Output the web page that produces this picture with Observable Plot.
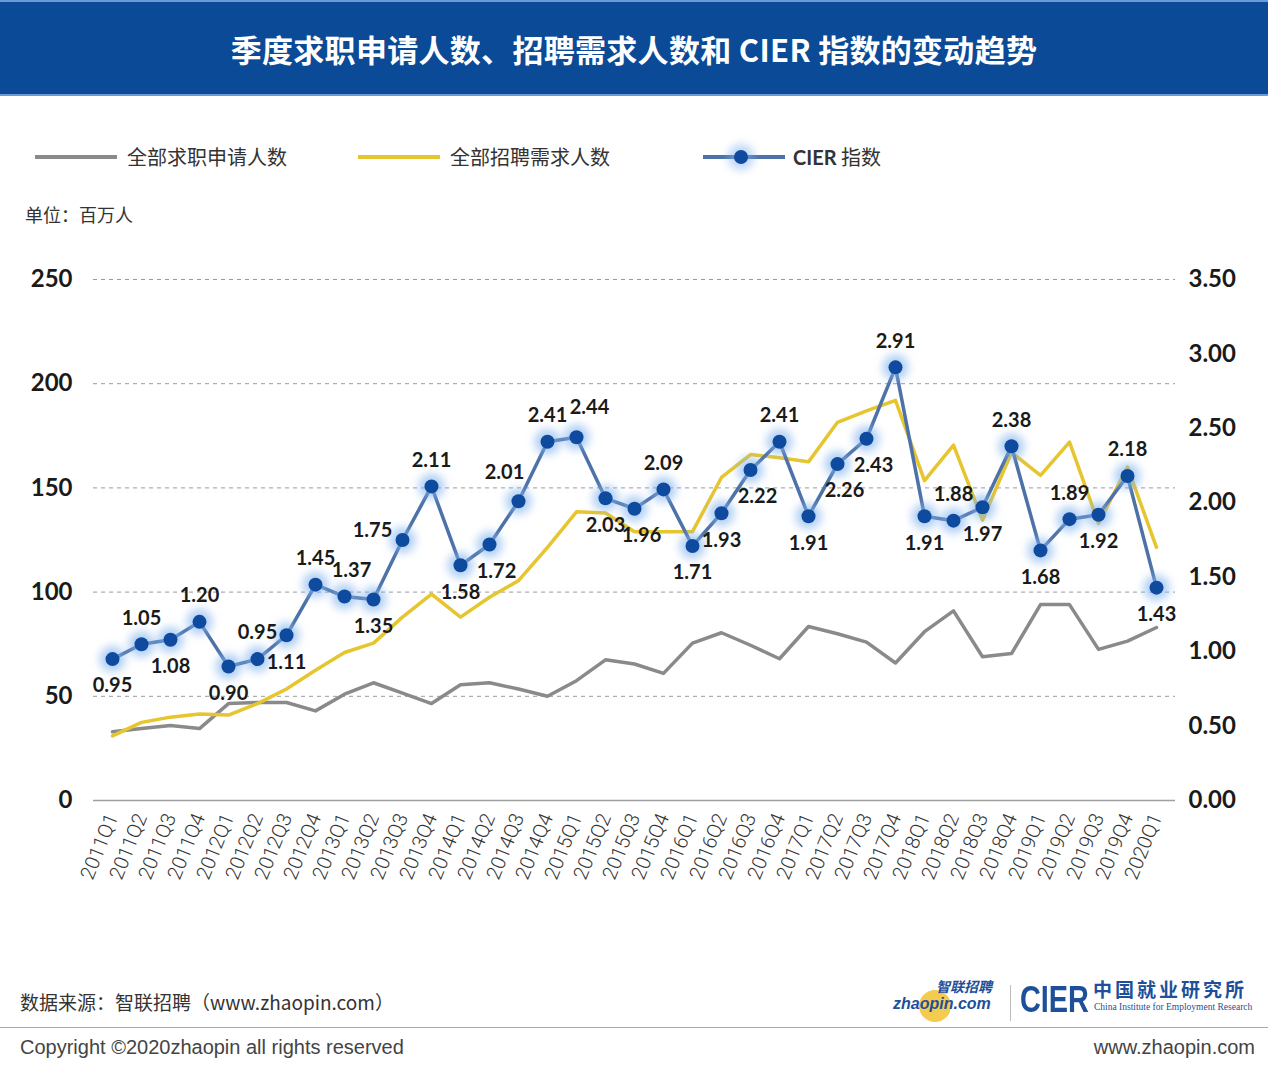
<!DOCTYPE html>
<html><head><meta charset="utf-8">
<script src="https://cdn.jsdelivr.net/npm/d3@7"></script>
<script src="https://cdn.jsdelivr.net/npm/@observablehq/plot@0.6"></script>
<style>
body{margin:0;width:1268px;height:1065px;position:relative;background:#fff;font-family:"Noto Sans CJK SC","Noto Sans",sans-serif;overflow:hidden}
#header{position:absolute;left:0;top:0;width:1268px;height:96px;background:#0b4a97;border-top:2px solid #6a9bd8;border-bottom:2px solid #6a9bd8;box-sizing:border-box;color:#fff;font-weight:bold;font-size:31px;display:flex;align-items:center;justify-content:center;letter-spacing:0.3px}
.leg{position:absolute;top:140px;font-size:20px;color:#333;line-height:34px;height:34px}
.leg svg{position:absolute;top:0}
.leg span{position:absolute;white-space:nowrap}
#unit{position:absolute;left:25px;top:201px;font-size:18px;color:#333}
#chart{position:absolute;left:0;top:240px}
.foot{position:absolute;font-size:19px;color:#333;white-space:nowrap}
#sep{position:absolute;left:0;top:1027px;width:1268px;height:1px;background:#aaa}
</style></head>
<body>
<div id="header">季度求职申请人数、招聘需求人数和 CIER 指数的变动趋势</div>
<div id="legend"></div>
<div id="unit">单位：百万人</div>
<div id="chart"></div>
<div class="foot" style="left:20px;top:988px">数据来源：智联招聘（www.zhaopin.com）</div>
<div id="sep"></div>
<div class="foot" style="left:20px;top:1036px;font-family:'Liberation Sans',sans-serif;font-size:20px;color:#444">Copyright ©2020zhaopin all rights reserved</div>
<div class="foot" style="right:13px;top:1036px;font-family:'Liberation Sans',sans-serif;font-size:20px;color:#444">www.zhaopin.com</div>
<div style="position:absolute;left:919px;top:990px;width:32px;height:32px;border-radius:16px;background:#f2c230;opacity:0.85"></div>
<div class="foot" style="left:893px;top:996px;font-family:'Liberation Sans',sans-serif;font-weight:bold;font-style:italic;font-size:16px;line-height:16px;color:#1d4f9a">zhaopin.com</div>
<div class="foot" style="left:936px;top:979px;font-weight:bold;font-style:italic;font-size:14px;color:#1d4f9a;line-height:14px">智联招聘</div>
<div style="position:absolute;left:1010px;top:985px;width:1px;height:36px;background:#bbb"></div>
<div class="foot" style="left:1020px;top:980px;font-family:'Liberation Sans',sans-serif;font-weight:bold;font-size:37px;line-height:40px;color:#1d4f9a;transform:scaleX(0.78);transform-origin:left top">CIER</div>
<div class="foot" style="left:1093px;top:979px;font-weight:bold;font-size:19px;color:#1d4f9a;line-height:20px;letter-spacing:3px">中国就业研究所</div>
<div class="foot" style="left:1094px;top:1002px;font-family:'Liberation Serif',serif;font-size:9.5px;line-height:10px;color:#1d4f9a">China Institute for Employment Research</div>
<script>
const quarters = ["2011Q1","2011Q2","2011Q3","2011Q4","2012Q1","2012Q2","2012Q3","2012Q4","2013Q1","2013Q2","2013Q3","2013Q4","2014Q1","2014Q2","2014Q3","2014Q4","2015Q1","2015Q2","2015Q3","2015Q4","2016Q1","2016Q2","2016Q3","2016Q4","2017Q1","2017Q2","2017Q3","2017Q4","2018Q1","2018Q2","2018Q3","2018Q4","2019Q1","2019Q2","2019Q3","2019Q4","2020Q1"];
const applicants = [33,34.5,36,34.5,46.5,47,47,43,51,56.5,51.5,46.5,55.5,56.5,53.5,50,57.5,67.5,65.5,61,75.5,80.5,74.5,68,83.5,80,76,66,81,91,69,70.5,94,94,72.5,76.5,83];
const demand = [31,37.5,40,41.5,41,46.5,53.5,62.5,71,75.5,88,99,88,97.5,105.5,121.5,138.5,138,129,129,129,155,166,164.5,162.5,181.5,187,192,153.5,170.5,134.5,167,156,172,133,160,121.5];
const cier = [0.95,1.05,1.08,1.20,0.90,0.95,1.11,1.45,1.37,1.35,1.75,2.11,1.58,1.72,2.01,2.41,2.44,2.03,1.96,2.09,1.71,1.93,2.22,2.41,1.91,2.26,2.43,2.91,1.91,1.88,1.97,2.38,1.68,1.89,1.92,2.18,1.43];
const labelSide = ["b","t","b","t","b","t","b","t","tR","b","l","t","b","br","tl","t","tr","b","br","t","b","b","br","t","b","br","br","t","b","t","b","t","b","t","b","t","b"];
const leftTicks = [0,50,100,150,200,250];
const rightTicks = [0,0.5,1,1.5,2,2.5,3,3.5];
const legendItems = [
  {name:"全部求职申请人数", color:"#8a8a8a", dot:false},
  {name:"全部招聘需求人数", color:"#e6c52f", dot:false},
  {name:"CIER 指数", color:"#4d72a8", dot:true}
];

const LEFT_MAX = 250, RIGHT_MAX = 3.5, k = LEFT_MAX / RIGHT_MAX;
const rows = quarters.map((q,i)=>({q, apps:applicants[i], dem:demand[i], cier:cier[i], side:labelSide[i]}));

// legend
const legX = [35,358,703];
const legend = d3.select("#legend");
legendItems.forEach((it,i)=>{
  const g = legend.append("div").attr("class","leg").style("left",legX[i]+"px");
  const s = g.append("svg").attr("width",84).attr("height",34).style("overflow","visible");
  s.append("line").attr("x1",0).attr("x2",82).attr("y1",17).attr("y2",17).attr("stroke",it.color).attr("stroke-width",4);
  if(it.dot){
    s.append("defs").html('<filter id="glowL" x="-1" y="-1" width="3" height="3"><feGaussianBlur stdDeviation="4"/></filter>');
    s.append("circle").attr("cx",38).attr("cy",17).attr("r",13).attr("fill","#7fb0ef").attr("opacity",0.5).attr("filter","url(#glowL)");
    s.append("circle").attr("cx",38).attr("cy",17).attr("r",7).attr("fill","#0e4a9e");
  }
  g.append("span").style("left",(i==2?90:92)+"px").style("top","0px").html(i==2?'<b style="font-family:Lato">CIER</b> 指数':it.name);
});

const offsets = {t:[0,-26], tR:[7,-26], b:[0,27], br:[7,27], tl:[-14,-29], tr:[13,-30], l:[-30,-9]};
const labelMarks = Object.entries(offsets).map(([key,[dx,dy]]) =>
  Plot.text(rows.filter(d=>d.side===key), {x:"q", y:d=>d.cier*k, text:d=>d.cier.toFixed(2), dx, dy,
    fontSize:20, fontWeight:"bold", fill:"#1a1a1a", fontFamily:"Lato"}));

const plot = Plot.plot({
  width:1268, height:660,
  marginLeft:93, marginRight:93, marginTop:39, marginBottom:100,
  x:{type:"point", domain:quarters, padding:0.5, axis:null},
  y:{domain:[0,LEFT_MAX], axis:null},
  style:{fontFamily:"Lato", background:"transparent", overflow:"visible"},
  marks:[
    Plot.ruleY(leftTicks.filter(v=>v>0), {stroke:"#9a9a9a", strokeWidth:1, strokeDasharray:"4,4"}),
    Plot.ruleY([0], {stroke:"#a0a0a0", strokeWidth:1.5}),
    Plot.line(rows, {x:"q", y:"apps", stroke:"#8a8a8a", strokeWidth:3.5}),
    Plot.line(rows, {x:"q", y:"dem", stroke:"#e6c52f", strokeWidth:3.5}),
    Plot.line(rows, {x:"q", y:d=>d.cier*k, stroke:"#4d72a8", strokeWidth:3.5}),
    Plot.dot(rows, {x:"q", y:d=>d.cier*k, r:13, fill:"#7fb0ef", fillOpacity:0.6}),
    Plot.dot(rows, {x:"q", y:d=>d.cier*k, r:7, fill:"#0e4a9e"}),
    ...labelMarks,
    Plot.text(leftTicks, {y:d=>d, text:d=>String(d), frameAnchor:"left", textAnchor:"end", dx:-21, fontSize:24, fontWeight:"bold", fill:"#1a1a1a"}),
    Plot.text(rightTicks, {y:d=>d*k, text:d=>d.toFixed(2), frameAnchor:"right", textAnchor:"start", dx:13, fontSize:24, fontWeight:"bold", fill:"#1a1a1a"}),
    Plot.text(quarters, {x:d=>d, text:d=>d, frameAnchor:"bottom", rotate:-68, textAnchor:"end", lineAnchor:"middle", dy:14, fontSize:20, fontFamily:"Roboto", fontWeight:300, fill:"#333"})
  ]
});
const svg = d3.select(plot);
svg.insert("defs",":first-child").html('<filter id="glow" x="-1" y="-1" width="3" height="3"><feGaussianBlur stdDeviation="4"/></filter>');
svg.selectAll("g").filter(function(){ return this.getAttribute("fill")==="#7fb0ef" || (this.querySelector(":scope > circle[fill='#7fb0ef']")); }).attr("filter","url(#glow)");
svg.selectAll("circle").filter(function(){ return this.getAttribute("fill")==="#7fb0ef"; }).attr("filter","url(#glow)");
document.getElementById("chart").appendChild(plot);
</script>
</body></html>
